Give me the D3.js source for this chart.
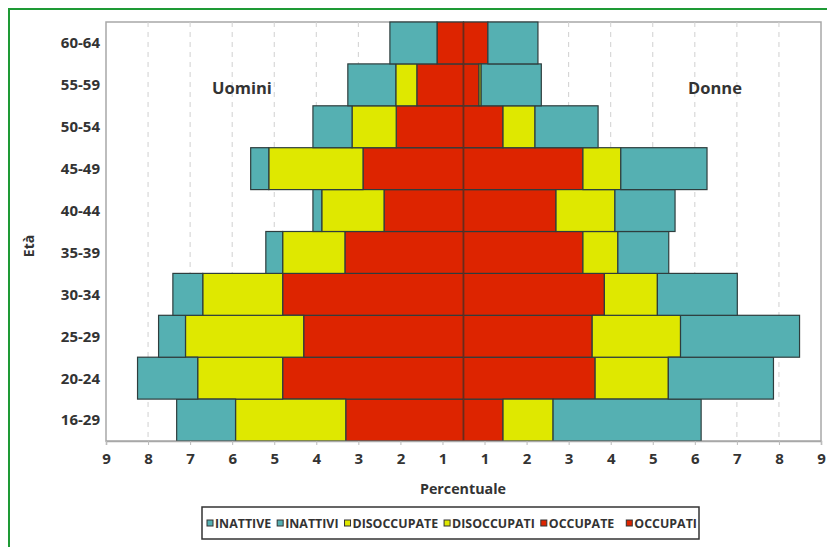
<!DOCTYPE html>
<html><head><meta charset="utf-8">
<script src="https://cdn.jsdelivr.net/npm/d3@7"></script>
<style>
body{margin:0;background:#fff;}
text{font-family:"Open Sans","DejaVu Sans",sans-serif;font-weight:700;}
</style></head>
<body><svg id="c" width="827" height="547"></svg>
<script>
const categories = ["16-29","20-24","25-29","30-34","35-39","40-44","45-49","50-54","55-59","60-64"];
// Uomini (left)
const occupati    = [2.80,4.30,3.80,4.30,2.82,1.89,2.39,1.60,1.11,0.63];
const disoccupati = [2.62,2.02,2.81,1.90,1.48,1.48,2.24,1.05,0.50,0.00];
const inattivi    = [1.40,1.43,0.64,0.71,0.40,0.21,0.43,0.93,1.14,1.12];
// Donne (right)
const occupate    = [0.94,3.13,3.06,3.35,2.84,2.20,2.84,0.94,0.37,0.58];
const disoccupate = [1.19,1.74,2.10,1.26,0.83,1.40,0.90,0.76,0.05,0.00];
const inattive    = [3.52,2.50,2.83,1.90,1.21,1.43,2.05,1.50,1.43,1.19];
const tickValues = d3.range(-8.5, 8.51, 1);
const legendLabels = ["INATTIVE","INATTIVI","DISOCCUPATE","DISOCCUPATI","OCCUPATE","OCCUPATI"];

const colors = {occ:"#dd2400", dis:"#dfe800", ina:"#55b0b2"};
const svg = d3.select("#c");
const L=106, R=821, T=22, B=441;

// outer green frame
svg.append("path").attr("d",`M9,547 L9,9 L827,9`).attr("fill","none").attr("stroke","#1e9a35").attr("stroke-width",2);

const x = d3.scaleLinear().domain([-8.5,8.5]).range([L,R]);
const y = d3.scaleBand().domain(categories.slice().reverse()).range([T,B]).padding(0);

// plot frame
svg.append("rect").attr("x",L).attr("y",T).attr("width",R-L).attr("height",B-T)
  .attr("fill","#fff").attr("stroke","#a8a8a8").attr("stroke-width",1.5);

// grid
svg.append("g").selectAll("line").data(tickValues.filter(v=>Math.abs(v)<8.5)).join("line")
  .attr("x1",d=>x(d)).attr("x2",d=>x(d)).attr("y1",T).attr("y2",B)
  .attr("stroke","#d0d0d0").attr("stroke-dasharray","5,5");

function rows(a,b,c){ return categories.map((k,i)=>({cat:k,occ:a[i],dis:b[i],ina:c[i]})); }
const stack = d3.stack().keys(["occ","dis","ina"]);
const sides = [
  {data: stack(rows(occupati,disoccupati,inattivi)), sign:-1},
  {data: stack(rows(occupate,disoccupate,inattive)), sign:1}
];
sides.forEach(s=>{
  s.data.forEach(layer=>{
    svg.append("g").selectAll("rect").data(layer).join("rect")
      .attr("x",d=>Math.min(x(s.sign*d[0]),x(s.sign*d[1])))
      .attr("width",d=>Math.abs(x(d[1])-x(d[0])))
      .attr("y",d=>y(d.data.cat))
      .attr("height",y.bandwidth())
      .attr("fill",colors[layer.key])
      .attr("stroke","#2e3d3d").attr("stroke-width",d=>(d[1]-d[0])>0?1.2:0);
  });
});
// center line
svg.append("line").attr("x1",x(0)).attr("x2",x(0)).attr("y1",T).attr("y2",B)
  .attr("stroke","#6a2a1a").attr("stroke-width",1.5);

// x axis
const ax = svg.append("g").attr("transform",`translate(0,${B})`)
  .call(d3.axisBottom(x).tickValues(tickValues).tickSize(4).tickPadding(8)
    .tickFormat(d=>String(Math.round(Math.abs(d)+0.5))));
ax.select(".domain").attr("stroke","#a8a8a8").attr("stroke-width",1.5);
ax.selectAll(".tick line").attr("stroke","#bbb");
ax.selectAll(".tick text").attr("font-size",15).attr("fill","#333").attr("font-family","'Open Sans',sans-serif").attr("font-weight",700);

// y labels
svg.append("g").selectAll("text").data(categories).join("text")
  .attr("x",100).attr("y",d=>y(d)+y.bandwidth()/2).attr("dy","0.36em")
  .attr("text-anchor","end").attr("font-size",15).attr("fill","#333").text(d=>d);

svg.append("text").attr("transform","translate(34,246) rotate(-90)")
  .attr("text-anchor","middle").attr("font-size",14).attr("fill","#333").text("Età");
svg.append("text").attr("x",463).attr("y",494).attr("text-anchor","middle")
  .attr("font-size",14.3).attr("fill","#333").text("Percentuale");
svg.append("text").attr("x",242).attr("y",94).attr("text-anchor","middle")
  .attr("font-size",16.5).attr("fill","#333").text("Uomini");
svg.append("text").attr("x",715).attr("y",94).attr("text-anchor","middle")
  .attr("font-size",16.5).attr("fill","#333").text("Donne");

// legend
const lg = svg.append("g");
lg.append("rect").attr("x",202).attr("y",507).attr("width",497).attr("height",32)
  .attr("fill","#fff").attr("stroke","#333").attr("stroke-width",1.5);
const legCols = [colors.ina,colors.ina,colors.dis,colors.dis,colors.occ,colors.occ];
let lx = 207;
legendLabels.forEach((t,i)=>{
  lg.append("rect").attr("x",lx).attr("y",520).attr("width",6).attr("height",6)
    .attr("fill",legCols[i]).attr("stroke","#333").attr("stroke-width",1);
  const tx = lg.append("text").attr("x",lx+8).attr("y",528).attr("font-size",12.4)
    .attr("fill","#333").text(t);
  lx += 8 + tx.node().getComputedTextLength() + 6 + (i===4?6:0);
});
</script></body></html>
